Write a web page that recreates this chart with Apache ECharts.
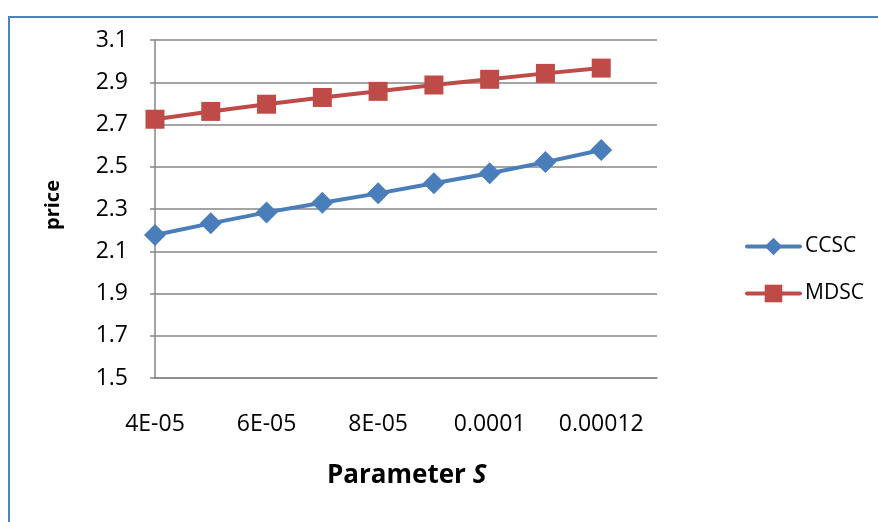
<!DOCTYPE html>
<html>
<head>
<meta charset="utf-8">
<script src="https://cdn.jsdelivr.net/npm/echarts@6/dist/echarts.min.js"></script>
<style>
html,body{margin:0;padding:0;background:#fff;}
#chart{width:878px;height:522px;}
</style>
</head>
<body>
<div id="chart"></div>
<script>
const sValues = [0.00004, 0.00005, 0.00006, 0.00007, 0.00008, 0.00009, 0.0001, 0.00011, 0.00012];
const ccsc = [2.177, 2.232, 2.284, 2.330, 2.374, 2.422, 2.469, 2.522, 2.579];
const mdsc = [2.725, 2.762, 2.796, 2.828, 2.857, 2.887, 2.914, 2.942, 2.967];
const seriesNames = ['CCSC', 'MDSC'];
const xTitle = 'Parameter ';
const xTitleItalic = 'S';
const yTitle = 'price';

const FONT = 'Open Sans';
const chart = echarts.init(document.getElementById('chart'));

function fmtX(v) {
  const r = +(+v).toPrecision(6);
  if (r < 0.0001) return Math.round(r * 1e5) + 'E-05';
  return String(r);
}

chart.setOption({
  animation: false,
  backgroundColor: '#fff',
  grid: { left: 155, top: 40, right: 221, bottom: 144 },
  xAxis: {
    type: 'value',
    min: 0.00004,
    max: 0.00013,
    interval: 0.00002,
    splitLine: { show: false },
    axisTick: { show: false },
    axisLine: { show: true, onZero: false, lineStyle: { color: '#868686', width: 1.5 } },
    axisLabel: {
      showMaxLabel: false,
      formatter: fmtX,
      color: '#000', fontFamily: FONT, fontSize: 23, margin: 35
    }
  },
  yAxis: {
    type: 'value',
    min: 1.5,
    max: 3.1,
    interval: 0.2,
    axisLine: { show: true, lineStyle: { color: '#868686', width: 1.5 } },
    axisTick: { show: true, length: 5, lineStyle: { color: '#868686', width: 1.5 } },
    splitLine: { show: true, lineStyle: { color: '#868686', width: 1.5 } },
    axisLabel: {
      formatter: v => (+v).toFixed(1),
      color: '#000', fontFamily: FONT, fontSize: 23, margin: 27
    },
    name: yTitle,
    nameLocation: 'middle',
    nameGap: 92,
    nameRotate: 90,
    nameTextStyle: { color: '#000', fontFamily: FONT, fontSize: 20, fontWeight: 'bold', padding: [0, 0, 0, 8] }
  },
  legend: {
    orient: 'vertical',
    left: 740,
    top: 231,
    itemWidth: 53,
    itemHeight: 22,
    itemGap: 26,
    data: seriesNames,
    lineStyle: { width: 4, cap: 'round' },
    textStyle: { color: '#000', fontFamily: FONT, fontSize: 21 }
  },
  graphic: [
    { type: 'rect', shape: { x: 9, y: 17, width: 900, height: 540 }, style: { fill: 'none', stroke: '#4f81bd', lineWidth: 2 }, silent: true },
    { type: 'text', left: 327, top: 463, silent: true, style: {
        text: '{a|' + xTitle + '}{b|' + xTitleItalic + '}',
        rich: {
          a: { fontFamily: FONT, fontSize: 26, fontWeight: 'bold', fill: '#000', color: '#000' },
          b: { fontFamily: FONT, fontSize: 26, fontWeight: 'bold', fontStyle: 'italic', fill: '#000', color: '#000' }
        }
      } }
  ],
  series: [
    {
      name: seriesNames[0], type: 'line',
      data: sValues.map((s, i) => [s, ccsc[i]]),
      symbol: 'diamond', symbolSize: 22,
      itemStyle: { color: '#4a7ebb' },
      lineStyle: { color: '#4a7ebb', width: 4 }
    },
    {
      name: seriesNames[1], type: 'line',
      data: sValues.map((s, i) => [s, mdsc[i]]),
      symbol: 'rect', symbolSize: 19,
      itemStyle: { color: '#be4b48' },
      lineStyle: { color: '#be4b48', width: 4 }
    }
  ]
});
</script>
</body>
</html>
